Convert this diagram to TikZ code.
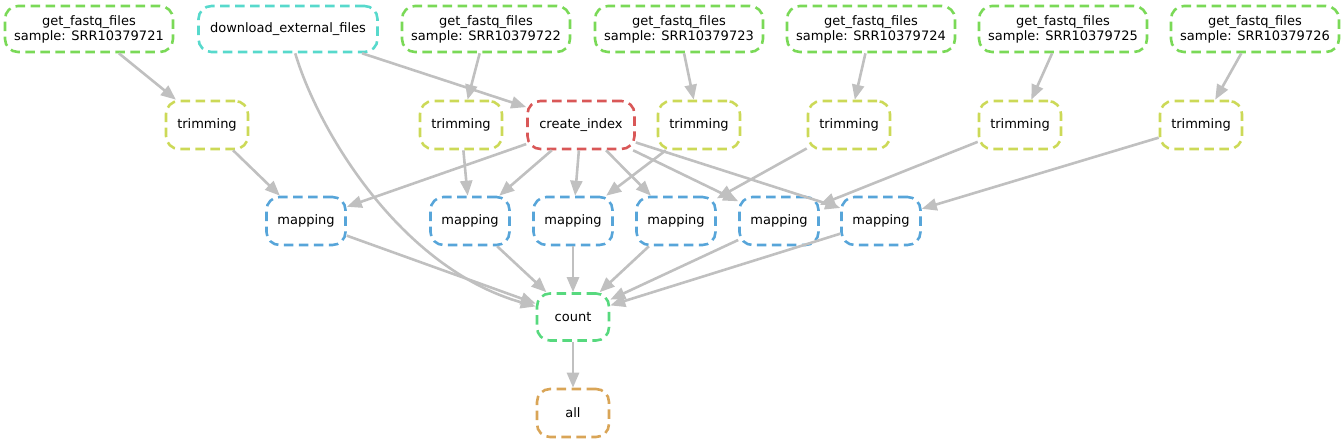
\documentclass[tikz,border=0pt]{standalone}
\usepackage{fontspec}
\setmainfont{DejaVu Sans}
\usetikzlibrary{arrows.meta}
\definecolor{cfastq}{RGB}{122,217,87}
\definecolor{ctrim}{RGB}{204,217,87}
\definecolor{cindex}{RGB}{217,87,87}
\definecolor{cmap}{RGB}{87,165,217}
\definecolor{cdown}{RGB}{87,217,204}
\definecolor{ccount}{RGB}{87,217,126}
\definecolor{call}{RGB}{217,165,87}
\definecolor{edgegray}{RGB}{192,192,192}
\begin{document}
\begin{tikzpicture}[x=1pt,y=-1pt,
  box/.style={draw, line width=2.6pt, dash pattern=on 9.5pt off 5.5pt, rounded corners=13pt,
    align=center, inner sep=0pt, text=black, font=\fontsize{13}{15}\selectfont},
  fq/.style={box, draw=cfastq, minimum width=168pt, minimum height=46pt},
  trim/.style={box, draw=ctrim, minimum width=82pt, minimum height=48pt},
  mapbox/.style={box, draw=cmap, minimum width=79pt, minimum height=48pt},
  edge/.style={draw=edgegray, line width=2.6pt, -{Triangle[length=15pt,width=12pt]}}]
\useasboundingbox (0,0) rectangle (1344,443);
% top row
\node[fq] (f1) at (89,29) {get\_fastq\_files\\sample: SRR10379721};
\node[box, draw=cdown, minimum width=179pt, minimum height=46pt] (dl) at (288,29) {download\_external\_files};
\node[fq] (f2) at (486,29) {get\_fastq\_files\\sample: SRR10379722};
\node[fq] (f3) at (679,29) {get\_fastq\_files\\sample: SRR10379723};
\node[fq] (f4) at (871,29) {get\_fastq\_files\\sample: SRR10379724};
\node[fq] (f5) at (1063,29) {get\_fastq\_files\\sample: SRR10379725};
\node[fq] (f6) at (1255,29) {get\_fastq\_files\\sample: SRR10379726};
% second row
\node[trim] (t1) at (207,125) {trimming};
\node[trim] (t2) at (461,125) {trimming};
\node[box, draw=cindex, minimum width=107pt, minimum height=48pt] (ci) at (581,125) {create\_index};
\node[trim] (t3) at (699,125) {trimming};
\node[trim] (t4) at (849,125) {trimming};
\node[trim] (t5) at (1020,125) {trimming};
\node[trim] (t6) at (1201,125) {trimming};
% third row
\node[mapbox] (m1) at (306,221) {mapping};
\node[mapbox] (m2) at (470,221) {mapping};
\node[mapbox] (m3) at (573,221) {mapping};
\node[mapbox] (m4) at (676,221) {mapping};
\node[mapbox] (m5) at (779,221) {mapping};
\node[mapbox] (m6) at (881,221) {mapping};
% bottom
\node[box, draw=ccount, minimum width=72pt, minimum height=47pt] (cnt) at (573,317) {count};
\node[box, draw=call, minimum width=72pt, minimum height=48pt] (all) at (573,413) {all};
% edges
\draw[edge] (f1) -- (t1);
\draw[edge] (f2) -- (t2);
\draw[edge] (f3) -- (t3);
\draw[edge] (f4) -- (t4);
\draw[edge] (f5) -- (t5);
\draw[edge] (f6) -- (t6);
\draw[edge] (dl) -- (ci);
\draw[edge] (dl) .. controls (318,130) and (400,268) .. (cnt);
\draw[edge] (t1) -- (m1);
\draw[edge] (t2) -- (m2);
\draw[edge] (t3) -- (m3);
\draw[edge] (t4) -- (m4);
\draw[edge] (t5) -- (m5);
\draw[edge] (t6) -- (m6);
\draw[edge] (ci) -- (m1);
\draw[edge] (ci) -- (m2);
\draw[edge] (ci) -- (m3);
\draw[edge] (ci) -- (m4);
\draw[edge] (ci) -- (m5);
\draw[edge] (ci) -- (m6);
\draw[edge] (m1) -- (cnt);
\draw[edge] (m2) -- (cnt);
\draw[edge] (m3) -- (cnt);
\draw[edge] (m4) -- (cnt);
\draw[edge] (m5) -- (cnt);
\draw[edge] (m6) -- (cnt);
\draw[edge] (cnt) -- (all);
\end{tikzpicture}
\end{document}
